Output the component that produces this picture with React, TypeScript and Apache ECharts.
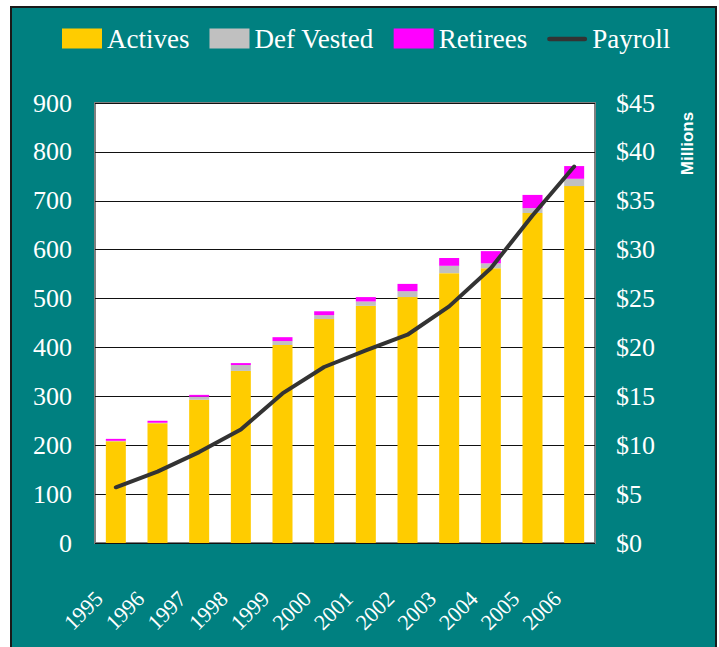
import React, { useEffect, useRef } from "react";
import * as echarts from "echarts";

const years = ["1995", "1996", "1997", "1998", "1999", "2000", "2001", "2002", "2003", "2004", "2005", "2006"];
const actives = [208, 245, 293, 352, 405, 458, 485, 503, 552, 562, 675, 730];
const defVested = [1, 1, 6, 12, 8, 8, 9, 12, 15, 10, 10, 15];
const retirees = [4, 4, 4, 4, 8, 8, 9, 15, 16, 25, 27, 26];
const payroll = [5.7, 7.3, 9.3, 11.6, 15.3, 18.0, 19.7, 21.3, 24.2, 28.1, 33.5, 38.5];

const leftMax = 900;
const leftStep = 100;
const rightMax = 45;
const rightStep = 5;

const SERIF = "Liberation Serif";

export default function App() {
  const ref = useRef<HTMLDivElement>(null);

  useEffect(() => {
    if (!ref.current) return;
    const chart = echarts.init(ref.current, undefined, { renderer: "svg" });
    chart.setOption({
      animation: false,
      backgroundColor: "transparent",
      textStyle: { fontFamily: SERIF },
      legend: {
        top: 20,
        left: 57,
        itemWidth: 40,
        itemHeight: 20,
        itemGap: 20,
        textStyle: { color: "#ffffff", fontFamily: SERIF, fontSize: 27 },
        data: [
          { name: "Actives", icon: "rect" },
          { name: "Def Vested", icon: "rect" },
          { name: "Retirees", icon: "rect" },
          { name: "Payroll", icon: "path://M0,0 M1,8 L39,8 A2.5,2.5 0 0 1 39,13 L1,13 A2.5,2.5 0 0 1 1,8 Z M40,20" },
        ],
      },
      grid: {
        left: 95,
        right: 124,
        top: 103,
        bottom: 104,
        show: true,
        backgroundColor: "#ffffff",
        borderColor: "#808080",
        borderWidth: 2,
      },
      xAxis: {
        type: "category",
        data: years,
        axisLine: { show: false },
        axisTick: { show: false },
        axisLabel: {
          rotate: 45,
          color: "#ffffff",
          fontFamily: SERIF,
          fontSize: 22,
          margin: 35,
          padding: [0, 24, 0, 0],
          interval: 0,
        },
      },
      yAxis: [
        {
          type: "value",
          min: 0,
          max: leftMax,
          interval: leftStep,
          axisLine: { show: false },
          axisTick: { show: false },
          splitLine: { lineStyle: { color: "#111111", width: 1 } },
          axisLabel: { color: "#ffffff", fontFamily: SERIF, fontSize: 26, margin: 23 },
        },
        {
          type: "value",
          min: 0,
          max: rightMax,
          interval: rightStep,
          axisLine: { show: false },
          axisTick: { show: false },
          splitLine: { show: false },
          axisLabel: {
            color: "#ffffff",
            fontFamily: SERIF,
            fontSize: 26,
            margin: 21,
            formatter: (v: number) => "$" + v,
          },
        },
      ],
      graphic: [
        {
          type: "text",
          x: 687,
          y: 143.5,
          rotation: Math.PI / 2,
          style: {
            text: "Millions",
            fill: "#ffffff",
            fontFamily: "Liberation Sans",
            fontWeight: "bold",
            fontSize: 17,
            textAlign: "center",
            textVerticalAlign: "middle",
          },
        },
      ],
      series: [
        {
          name: "Actives",
          type: "bar",
          stack: "total",
          barWidth: 20,
          itemStyle: { color: "#FFCC00" },
          data: actives,
        },
        {
          name: "Def Vested",
          type: "bar",
          stack: "total",
          barWidth: 20,
          itemStyle: { color: "#C0C0C0" },
          data: defVested,
        },
        {
          name: "Retirees",
          type: "bar",
          stack: "total",
          barWidth: 20,
          itemStyle: { color: "#FF00FF" },
          data: retirees,
        },
        {
          name: "Payroll",
          type: "line",
          yAxisIndex: 1,
          symbol: "none",
          lineStyle: { color: "#333333", width: 4, cap: "round", join: "round" },
          itemStyle: { color: "#333333" },
          data: payroll,
          z: 5,
        },
      ],
    });
    return () => chart.dispose();
  }, []);

  return (
    <div style={{ position: "absolute", left: 0, top: 0, width: 719, height: 647, background: "#ffffff", overflow: "hidden" }}>
      <div
        style={{
          position: "absolute",
          left: 10,
          top: 6,
          width: 703,
          height: 645,
          background: "#008080",
          border: "2px solid #1a1a1a",
        }}
      />
      <div ref={ref} style={{ position: "absolute", left: 0, top: 0, width: 719, height: 647 }} />
    </div>
  );
}
